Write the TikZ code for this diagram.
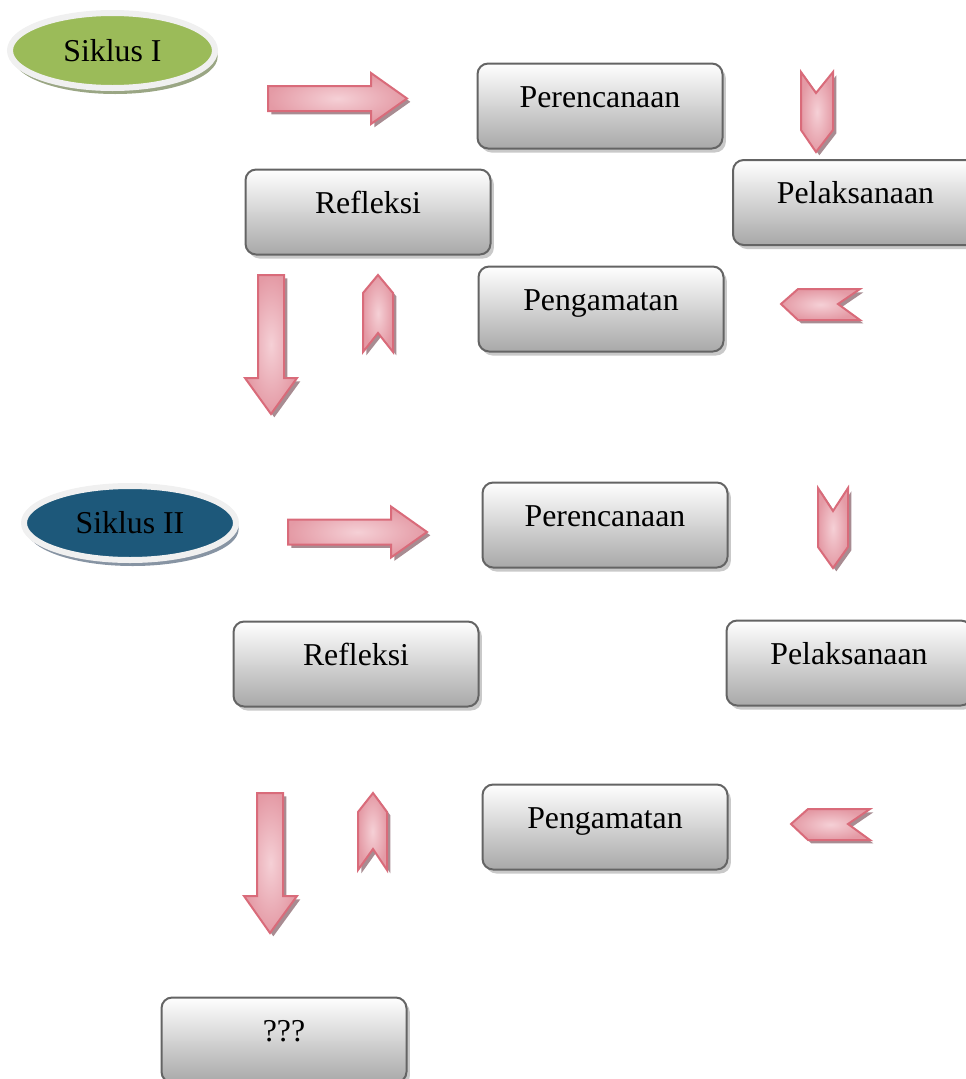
\documentclass[tikz,border=0pt]{standalone}
\usepackage{fontspec}
\setmainfont{Liberation Serif}
\usetikzlibrary{shapes.geometric,shadows}
\definecolor{siklushijau}{HTML}{9BBB59}
\definecolor{siklusbiru}{HTML}{1D587A}
\definecolor{cincin}{HTML}{F0F0F0}
\definecolor{bayanghijau}{HTML}{9AA684}
\definecolor{bayangbiru}{HTML}{8794A3}
\definecolor{tepikotak}{HTML}{646464}
\definecolor{dasarkotak}{HTML}{A8A8A8}
\definecolor{tepipanah}{HTML}{D96B7A}
\definecolor{panahterang}{HTML}{F5D0D6}
\definecolor{panahgelap}{HTML}{E49AA5}
\definecolor{bayangpanah}{HTML}{A88C92}
\newcommand{\hurufkotak}{\fontsize{23.85}{28}\selectfont}
\begin{document}
\begin{tikzpicture}[x=0.75pt,y=-0.75pt,
    tahap/.style ={rectangle, rounded corners=8pt, draw=tepikotak, line width=1.5pt,
      top color=white, bottom color=dasarkotak, minimum width=183.75pt, minimum height=63.75pt,
      inner sep=0pt, text height=11pt, text depth=9pt, font=\hurufkotak,
      drop shadow={shadow xshift=2.5pt, shadow yshift=-3pt, fill=black!30, opacity=.7}},
    siklus/.style ={ellipse, draw=cincin, line width=4.5pt, inner sep=0pt, font=\hurufkotak},
    panah/.style ={draw=tepipanah, line width=1.5pt, inner color=panahterang, outer color=panahgelap,
      drop shadow={shadow xshift=2.5pt, shadow yshift=-2.5pt, fill=bayangpanah, opacity=1}}]
   \useasboundingbox (0,0) rectangle (965,1079);

   \node[siklus, fill=siklushijau, minimum width=153.75pt, minimum height=56.25pt,
     drop shadow={shadow xshift=2pt, shadow yshift=-4.5pt, fill=bayanghijau, opacity=1}] (siklusI) at (112.5,50.5) {Siklus I};
   \node[tahap] (rencanaI) at (600,106) {Perencanaan};
   \node[tahap] (laksanaI) at (855.5,202.5) {Pelaksanaan};
   \node[tahap] (refleksiI) at (368,212) {Refleksi};
   \node[tahap] (amatI) at (601,309) {Pengamatan};

   \node[siklus, fill=siklusbiru, minimum width=159pt, minimum height=55.5pt,
     drop shadow={shadow xshift=2pt, shadow yshift=-4.5pt, fill=bayangbiru, opacity=1}] (siklusII) at (130,523) {Siklus II};
   \node[tahap] (rencanaII) at (605,525) {Perencanaan};
   \node[tahap] (laksanaII) at (849,663) {Pelaksanaan};
   \node[tahap] (refleksiII) at (356,664) {Refleksi};
   \node[tahap] (amatII) at (605,827) {Pengamatan};
   \node[tahap] (lanjut) at (284,1040) {???};

   \draw[panah] (268,86) -- (371,86) -- (371,73) -- (407,98.5) -- (371,124) -- (371,111) -- (268,111) -- cycle;
   \draw[panah] (801,72) -- (816,93) -- (833,72) -- (833,130) -- (816,152) -- (801,130) -- cycle;
   \draw[panah] (781,304) -- (798,289) -- (860,289) -- (838,304) -- (860,320) -- (798,320) -- cycle;
   \draw[panah] (378,275) -- (393,293) -- (393,352) -- (378,333) -- (363,352) -- (363,293) -- cycle;
   \draw[panah] (258,275) -- (284,275) -- (284,378) -- (297,378) -- (271,414) -- (245,378) -- (258,378) -- cycle;

   \draw[panah] (288,519.5) -- (391,519.5) -- (391,506.5) -- (427,532) -- (391,557.5) -- (391,544.5) -- (288,544.5) -- cycle;
   \draw[panah] (818,488) -- (833,511) -- (848,488) -- (848,547) -- (833,568) -- (818,547) -- cycle;
   \draw[panah] (791,824) -- (808,809) -- (870,809) -- (848,824) -- (870,840) -- (808,840) -- cycle;
   \draw[panah] (373,793) -- (387,812) -- (387,870) -- (373,849) -- (358,870) -- (358,812) -- cycle;
   \draw[panah] (257,793) -- (283,793) -- (283,896) -- (297,896) -- (270,933) -- (244,896) -- (257,896) -- cycle;
 \end{tikzpicture}
\end{document}
